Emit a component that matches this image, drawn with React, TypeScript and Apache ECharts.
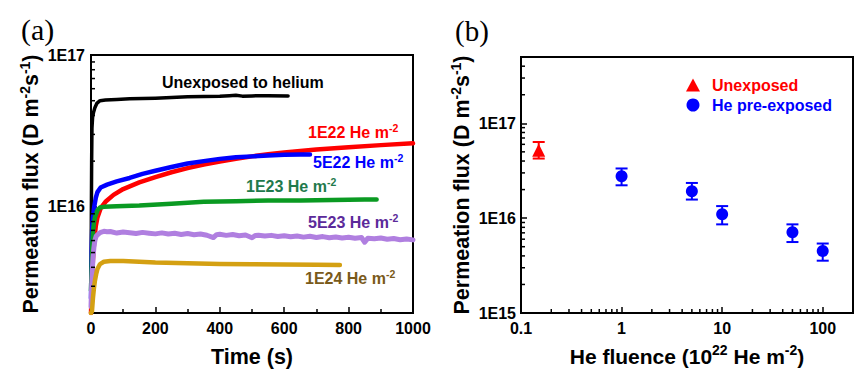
import React, { useEffect, useRef } from 'react';
import * as echarts from 'echarts';

// ---------- Panel (a): permeation flux vs time (flux in units of 1E16 D m-2 s-1) ----------
const timeBlack = [0, 1, 2, 3, 5, 8, 12, 18, 28, 45, 80, 120, 200, 300, 400, 430, 450, 470, 500, 550, 612];
const fluxBlack = [0.25, 0.8, 2.0, 3.3, 3.9, 4.2, 4.5, 4.8, 5.0, 5.05, 5.1, 5.15, 5.2, 5.3, 5.35, 5.4, 5.44, 5.36, 5.38, 5.4, 5.38];

const timeRed = [0, 3, 6, 10, 15, 20, 30, 45, 70, 100, 150, 200, 250, 300, 350, 400, 450, 500, 550, 600, 700, 800, 900, 1000];
const fluxRed = [0.2, 0.3, 0.45, 0.6, 0.75, 0.85, 0.98, 1.08, 1.2, 1.31, 1.45, 1.57, 1.69, 1.8, 1.9, 1.99, 2.07, 2.15, 2.22, 2.28, 2.39, 2.47, 2.55, 2.62];

const timeBlue = [0, 2, 4, 6, 10, 15, 20, 30, 50, 80, 120, 160, 200, 250, 300, 350, 400, 450, 500, 550, 600, 650, 680];
const fluxBlue = [0.25, 0.5, 0.75, 0.85, 1.0, 1.15, 1.25, 1.34, 1.4, 1.47, 1.55, 1.65, 1.73, 1.83, 1.93, 2.0, 2.07, 2.12, 2.15, 2.18, 2.2, 2.21, 2.21];

const timeGreen = [0, 2, 4, 6, 9, 12, 20, 28, 40, 80, 150, 250, 350, 450, 550, 650, 750, 850, 887];
const fluxGreen = [0.28, 0.4, 0.55, 0.68, 0.78, 0.85, 0.95, 0.99, 1.0, 1.01, 1.02, 1.05, 1.08, 1.09, 1.1, 1.1, 1.11, 1.12, 1.12];

const timePurple = [0, 2, 4, 6, 9, 12, 16, 22, 30, 40, 50, 60, 80, 100, 120, 140, 160, 180, 200, 220, 240, 260, 280, 300, 320, 340, 360, 380, 390, 400, 420, 440, 460, 480, 500, 510, 520, 540, 560, 580, 600, 620, 640, 660, 680, 700, 720, 740, 760, 780, 800, 820, 840, 850, 860, 880, 900, 920, 940, 960, 980, 1000];
const fluxPurple = [0.22, 0.3, 0.38, 0.46, 0.54, 0.6, 0.64, 0.66, 0.68, 0.69, 0.685, 0.688, 0.672, 0.683, 0.676, 0.668, 0.679, 0.671, 0.664, 0.674, 0.662, 0.67, 0.658, 0.667, 0.655, 0.663, 0.65, 0.628, 0.656, 0.66, 0.649, 0.657, 0.645, 0.652, 0.626, 0.648, 0.65, 0.642, 0.649, 0.638, 0.646, 0.636, 0.643, 0.632, 0.64, 0.629, 0.637, 0.626, 0.634, 0.624, 0.631, 0.622, 0.628, 0.585, 0.622, 0.616, 0.624, 0.612, 0.619, 0.608, 0.615, 0.606];

const timeGold = [0, 3, 6, 9, 12, 16, 20, 28, 40, 60, 100, 150, 200, 300, 400, 500, 600, 700, 773];
const fluxGold = [0.2, 0.205, 0.25, 0.29, 0.324, 0.36, 0.39, 0.42, 0.435, 0.44, 0.44, 0.435, 0.43, 0.425, 0.421, 0.419, 0.417, 0.415, 0.414];

// ---------- Panel (b): permeation flux vs He fluence (1E22 He m-2) ----------
const unexposedFluence = [0.15];
const unexposedFlux = [5.2e16];
const unexposedLow = [4.25e16];
const unexposedHigh = [6.35e16];

const exposedFluence = [1, 5, 10, 50, 100];
const exposedFlux = [2.77e16, 1.92e16, 1.1e16, 7.1e15, 4.5e15];
const exposedLow = [2.22e16, 1.57e16, 8.6e15, 5.6e15, 3.56e15];
const exposedHigh = [3.34e16, 2.35e16, 1.34e16, 8.6e15, 5.4e15];

// minor tick values of the log axes
const minorTicksYA = [3e15, 4e15, 5e15, 6e15, 7e15, 8e15, 9e15, 2e16, 3e16, 4e16, 5e16, 6e16, 7e16, 8e16, 9e16];
const minorTicksYB = [2e15, 3e15, 4e15, 5e15, 6e15, 7e15, 8e15, 9e15, 2e16, 3e16, 4e16, 5e16, 6e16, 7e16, 8e16, 9e16, 2e17, 3e17, 4e17];
const minorTicksXB = [0.2, 0.3, 0.4, 0.5, 0.6, 0.7, 0.8, 0.9, 2, 3, 4, 5, 6, 7, 8, 9, 20, 30, 40, 50, 60, 70, 80, 90];

const FONT = '"Liberation Sans", Arial, sans-serif';
const SERIF = '"Liberation Serif", "Times New Roman", serif';

const isDecade = (v: number) => {
  const l = Math.log10(v);
  return Math.abs(l - Math.round(l)) < 1e-6;
};

export default function App() {
  const ref = useRef<HTMLDivElement>(null);

  useEffect(() => {
    document.body.style.margin = '0';
    if (!ref.current) return;
    const chart = echarts.init(ref.current, null, { renderer: 'svg' });

    const lineSeries = (name: string, t: number[], f: number[], color: string, width: number) => ({
      name,
      type: 'line',
      xAxisIndex: 0,
      yAxisIndex: 0,
      data: t.map((x, i) => [x, f[i] * 1e16]),
      symbol: 'none',
      showSymbol: false,
      smooth: false,
      silent: true,
      lineStyle: { color, width, cap: 'round', join: 'round' },
      itemStyle: { color },
    });

    const tickSeries = (xi: number, yi: number, data: number[][], dir: 'x' | 'y') => ({
      type: 'custom',
      xAxisIndex: xi,
      yAxisIndex: yi,
      silent: true,
      clip: false,
      z: 10,
      data,
      renderItem: (params: any, api: any) => {
        const p = api.coord([api.value(0), api.value(1)]);
        const len = 4;
        return {
          type: 'line',
          shape: dir === 'y'
            ? { x1: p[0], y1: p[1], x2: p[0] + len, y2: p[1] }
            : { x1: p[0], y1: p[1], x2: p[0], y2: p[1] - len },
          style: { stroke: '#000', lineWidth: 1.5 },
        };
      },
    });

    const errSeries = (name: string, xs: number[], lo: number[], hi: number[], color: string) => ({
      name,
      type: 'custom',
      xAxisIndex: 1,
      yAxisIndex: 1,
      silent: true,
      z: 4,
      data: xs.map((x, i) => [x, lo[i], hi[i]]),
      renderItem: (params: any, api: any) => {
        const x = api.value(0);
        const a = api.coord([x, api.value(1)]);
        const b = api.coord([x, api.value(2)]);
        const w = 6;
        const st = { stroke: color, lineWidth: 2 };
        return {
          type: 'group',
          children: [
            { type: 'line', shape: { x1: a[0], y1: a[1], x2: b[0], y2: b[1] }, style: st },
            { type: 'line', shape: { x1: a[0] - w, y1: a[1], x2: a[0] + w, y2: a[1] }, style: st },
            { type: 'line', shape: { x1: b[0] - w, y1: b[1], x2: b[0] + w, y2: b[1] }, style: st },
          ],
        };
      },
    });

    const axisLabel = { color: '#000', fontFamily: FONT, fontWeight: 'bold', fontSize: 16, margin: 7 };
    const axisLine = { show: true, onZero: false, lineStyle: { color: '#000', width: 2 } };
    const axisTick = { show: true, inside: true, length: 6, lineStyle: { color: '#000', width: 1.5 } };
    const supRich = {
      s: { fontSize: 14, lineHeight: 14, verticalAlign: 'top', fontWeight: 'bold', fontFamily: FONT, color: '#000' },
    };
    const yName = 'Permeation flux (D m{s|-2}s{s|-1})';
    const yNameStyle = { fontSize: 21.5, lineHeight: 26, fontWeight: 'bold', fontFamily: FONT, color: '#000', rich: supRich };

    const labelText = (txt: string, x: number, y: number, color: string) => ({
      type: 'text',
      x,
      y,
      silent: true,
      style: {
        text: txt,
        fill: color,
        fontSize: 16,
        fontWeight: 'bold',
        fontFamily: FONT,
        lineHeight: 20,
        verticalAlign: 'middle',
        rich: {
          s: { fontSize: 10.5, lineHeight: 10, verticalAlign: 'top', fontWeight: 'bold', fontFamily: FONT, fill: color },
        },
      },
    });

    chart.setOption({
      animation: false,
      backgroundColor: '#fff',
      grid: [
        { left: 91, top: 55, width: 322, height: 258, show: true, borderColor: '#000', borderWidth: 2, backgroundColor: 'transparent' },
        { left: 521, top: 57, width: 332, height: 256, show: true, borderColor: '#000', borderWidth: 2, backgroundColor: 'transparent' },
      ],
      xAxis: [
        {
          gridIndex: 0,
          type: 'value',
          min: 0,
          max: 1000,
          interval: 200,
          axisLine,
          axisTick,
          minorTick: { show: true, splitNumber: 2, length: 4, lineStyle: { color: '#000', width: 1.5 } },
          splitLine: { show: false },
          axisLabel: { ...axisLabel, formatter: (v: number) => String(v) },
          name: 'Time (s)',
          nameLocation: 'middle',
          nameGap: 33,
          nameTextStyle: { fontSize: 21.5, fontWeight: 'bold', fontFamily: FONT, color: '#000' },
        },
        {
          gridIndex: 1,
          type: 'log',
          logBase: 10,
          min: 0.1,
          max: 200,
          axisLine,
          axisTick,
          splitLine: { show: false },
          axisLabel: {
            ...axisLabel,
            formatter: (v: number) => (isDecade(v) ? String(Number(v.toPrecision(6))) : ''),
          },
          name: 'He fluence (10{s|22} He m{s|-2})',
          nameLocation: 'middle',
          nameGap: 30,
          nameTextStyle: { fontSize: 21, lineHeight: 26, fontWeight: 'bold', fontFamily: FONT, color: '#000', rich: supRich },
        },
      ],
      yAxis: [
        {
          gridIndex: 0,
          type: 'log',
          logBase: 10,
          min: 2e15,
          max: 1e17,
          axisLine,
          axisTick,
          splitLine: { show: false },
          axisLabel: {
            ...axisLabel,
            margin: 6,
            formatter: (v: number) => (isDecade(v) ? '1E' + Math.round(Math.log10(v)) : ''),
          },
          name: yName,
          nameLocation: 'middle',
          nameRotate: 90,
          nameGap: 47,
          nameTextStyle: yNameStyle,
        },
        {
          gridIndex: 1,
          type: 'log',
          logBase: 10,
          min: 1e15,
          max: 5e17,
          axisLine,
          axisTick,
          splitLine: { show: false },
          axisLabel: {
            ...axisLabel,
            margin: 5,
            formatter: (v: number) => (isDecade(v) ? '1E' + Math.round(Math.log10(v)) : ''),
          },
          name: yName,
          nameLocation: 'middle',
          nameRotate: 90,
          nameGap: 45,
          nameTextStyle: yNameStyle,
        },
      ],
      legend: {
        left: 686,
        top: 77,
        padding: 0,
        orient: 'vertical',
        itemWidth: 14,
        itemHeight: 13,
        itemGap: 4,
        selectedMode: false,
        data: [
          { name: 'Unexposed', textStyle: { color: '#ff0000' } },
          { name: 'He pre-exposed', textStyle: { color: '#0000ff' } },
        ],
        textStyle: { fontSize: 16, fontWeight: 'bold', fontFamily: FONT, padding: [0, 0, 0, 7] },
      },
      graphic: [
        { type: 'text', x: 21, y: 29, silent: true, style: { text: '(a)', fontSize: 30, fontFamily: SERIF, fill: '#000', verticalAlign: 'middle' } },
        { type: 'text', x: 455, y: 31, silent: true, style: { text: '(b)', fontSize: 29, fontFamily: SERIF, fill: '#000', verticalAlign: 'middle' } },
        labelText('Unexposed to helium', 162, 82, '#000000'),
        labelText('1E22 He m{s|-2}', 308, 132, '#ff0000'),
        labelText('5E22 He m{s|-2}', 313, 162, '#0000ff'),
        labelText('1E23 He m{s|-2}', 246, 186, '#1f7a4c'),
        labelText('5E23 He m{s|-2}', 308, 222, '#5b2a9a'),
        labelText('1E24 He m{s|-2}', 305, 278, '#7a5a1a'),
      ],
      series: [
        lineSeries('Unexposed to helium', timeBlack, fluxBlack, '#000000', 3.5),
        lineSeries('1E22', timeRed, fluxRed, '#ff0000', 4.5),
        lineSeries('5E22', timeBlue, fluxBlue, '#0000ff', 4.5),
        lineSeries('1E23', timeGreen, fluxGreen, '#0a9a22', 4.5),
        lineSeries('5E23', timePurple, fluxPurple, '#b07fe0', 5),
        lineSeries('1E24', timeGold, fluxGold, '#d4a012', 4.5),
        tickSeries(0, 0, minorTicksYA.map((v) => [0, v]), 'y'),
        tickSeries(1, 1, minorTicksYB.map((v) => [0.1, v]), 'y'),
        tickSeries(1, 1, minorTicksXB.map((v) => [v, 1e15]), 'x'),
        errSeries('Unexposed error', unexposedFluence, unexposedLow, unexposedHigh, '#ff0000'),
        errSeries('He pre-exposed error', exposedFluence, exposedLow, exposedHigh, '#0000ff'),
        {
          name: 'Unexposed',
          type: 'scatter',
          xAxisIndex: 1,
          yAxisIndex: 1,
          symbol: 'triangle',
          symbolSize: 13,
          z: 5,
          itemStyle: { color: '#ff0000', opacity: 1 },
          data: unexposedFluence.map((x, i) => [x, unexposedFlux[i]]),
        },
        {
          name: 'He pre-exposed',
          type: 'scatter',
          xAxisIndex: 1,
          yAxisIndex: 1,
          symbol: 'circle',
          symbolSize: 12,
          z: 5,
          itemStyle: { color: '#0000ff', opacity: 1 },
          data: exposedFluence.map((x, i) => [x, exposedFlux[i]]),
        },
      ],
    });

    return () => chart.dispose();
  }, []);

  return <div ref={ref} style={{ width: 868, height: 378 }} />;
}
